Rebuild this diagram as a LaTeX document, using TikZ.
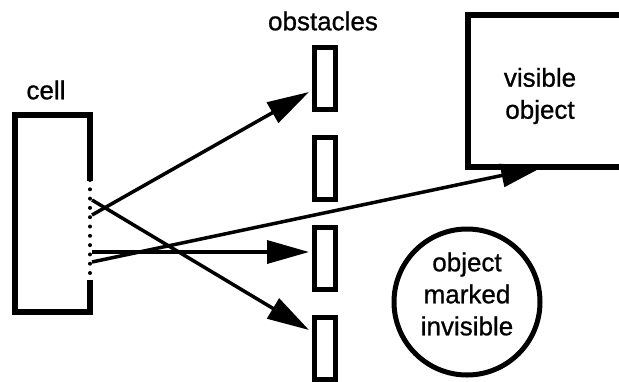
\documentclass[tikz,border=0pt]{standalone}
\usepackage{fontspec}
\setmainfont{Liberation Sans}
\newfontface\heavy{Liberation Sans}[FakeBold=0.8]
\usetikzlibrary{arrows.meta,calc}

\begin{document}
\begin{tikzpicture}[x=1pt,y=-1pt,
 wall/.style={draw,line width=5.5pt,line cap=rect},
 holes/.style={line width=4pt,line cap=round,dash pattern=on 0pt off 9.3pt},
 block/.style={draw,line width=5pt,minimum width=21pt,minimum height=62pt,inner sep=0pt},
 ray/.style={-{Triangle[length=42pt,width=23pt]},line width=3.5pt},
 lbl/.style={font=\heavy\fontsize{26}{32}\selectfont,align=center,inner sep=0pt}]
 \clip (0,0) rectangle (619,381);

 % the cell, with its open side
 \draw[wall] (90,178) -- (90,115) -- (15,115) -- (15,312) -- (90,312) -- (90,283);
 \draw[holes] (90,180) -- (90,284);
 \node[lbl] (celllbl) at (46,90) {cell};
 \coordinate (s1) at (92,215);
 \coordinate (s2) at (92,200);
 \coordinate (s3) at (92,252);
 \coordinate (s4) at (92,262);

 % obstacles
 \node[lbl] (obslbl) at (323,21) {obstacles};
 \node[block] (obs1) at (325,78) {};
 \node[block] (obs2) at (325,168) {};
 \node[block] (obs3) at (325,258) {};
 \node[block] (obs4) at (325,348) {};

 % objects
 \node[draw,line width=5.5pt,minimum width=156pt,minimum height=152pt] (vis) at (546,91) {};
 \node[lbl] (vislbl) at (540,96) {visible\\object};
 \node[draw,circle,line width=5pt,minimum size=146pt] (hid) at (467,302) {};
 \node[lbl] (hidlbl) at (467,294) {object\\marked\\invisible};

 \coordinate (t1) at ($(obs1.west)+(-3,14)$);
 \coordinate (t2) at ($(obs4.west)+(-3,-18)$);
 \coordinate (t3) at ($(obs3.west)+(-3,-6)$);
 \coordinate (t4) at ($(vis.south)+(-3,-3)$);

 \draw[ray] (s1) -- (t1);
 \draw[ray] (s2) -- (t2);
 \draw[ray] (s3) -- (t3);
 \draw[ray] (s4) -- (t4);
\end{tikzpicture}
\end{document}
